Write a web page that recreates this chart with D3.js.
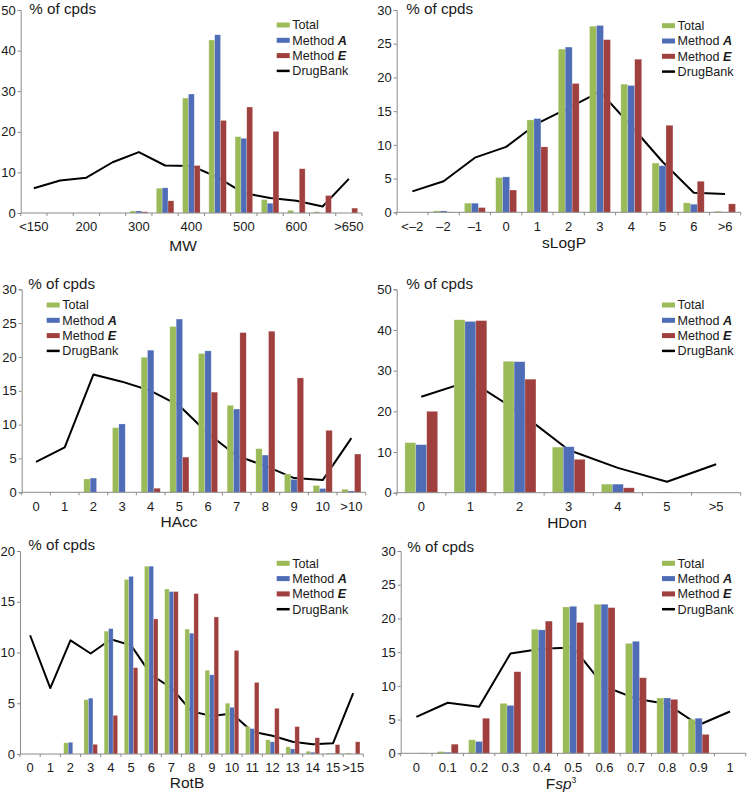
<!DOCTYPE html>
<html>
<head>
<meta charset="utf-8">
<script src="https://cdn.jsdelivr.net/npm/d3@7"></script>
<style>
  body { margin: 0; background: #fff; }
  text { font-family: "Liberation Sans", Arial, sans-serif; fill: #1a1a1a; }
</style>
</head>
<body>
<script>
// ---- data (% of compounds) ----
const mwCats = ["<150", "150", "200", "250", "300", "350", "400", "450", "500", "550", "600", "650", ">650"];
const mwTotal = [0, 0, 0, 0, 0.5, 6.1, 28.3, 42.6, 18.8, 3.3, 0.65, 0.3, 0];
const mwA     = [0, 0, 0, 0, 0.5, 6.2, 29.3, 43.9, 18.4, 2.4, 0, 0, 0];
const mwE     = [0, 0, 0, 0, 0.3, 3.0, 11.7, 22.8, 26.1, 20.1, 10.9, 4.3, 1.2];
const mwDrug  = [6.1, 8.0, 8.7, 12.5, 15.0, 11.7, 11.6, 8.8, 4.9, 3.7, 3.0, 1.6, 8.4];

const slCats = ["<\u20132", "\u20132", "\u20131", "0", "1", "2", "3", "4", "5", "6", ">6"];
const slTotal = [0, 0.2, 1.35, 5.15, 13.7, 24.2, 27.6, 19.0, 7.3, 1.4, 0.15];
const slA     = [0, 0.2, 1.35, 5.25, 13.9, 24.5, 27.7, 18.8, 6.9, 1.2, 0.05];
const slE     = [0, 0.05, 0.7, 3.3, 9.7, 19.1, 25.6, 22.7, 12.9, 4.6, 1.25];
const slDrug  = [3.1, 4.6, 8.1, 9.7, 13.2, 15.5, 17.9, 12.8, 7.5, 2.9, 2.7];

const haCats = ["0", "1", "2", "3", "4", "5", "6", "7", "8", "9", "10", ">10"];
const haTotal = [0, 0, 1.97, 9.55, 19.95, 24.5, 20.5, 12.85, 6.45, 2.7, 1.0, 0.45];
const haA     = [0, 0, 2.1, 10.1, 21.0, 25.6, 20.9, 12.3, 5.5, 1.9, 0.55, 0.2];
const haE     = [0, 0, 0, 0, 0.6, 5.2, 14.8, 23.6, 23.8, 16.9, 9.15, 5.65];
const haDrug  = [4.5, 6.65, 17.4, 16.35, 15.0, 12.8, 8.7, 5.4, 3.9, 2.1, 1.8, 8.0];

const hdCats = ["0", "1", "2", "3", "4", "5", ">5"];
const hdTotal = [12.3, 42.5, 32.3, 11.2, 2.1, 0.15, 0];
const hdA     = [11.8, 42.1, 32.2, 11.3, 2.1, 0.15, 0];
const hdE     = [20.0, 42.3, 27.9, 8.2, 1.2, 0.05, 0];
const hdDrug  = [23.6, 27.5, 19.8, 10.5, 6.1, 2.7, 7.0];

const rbCats = ["0", "1", "2", "3", "4", "5", "6", "7", "8", "9", "10", "11", "12", "13", "14", "15", ">15"];
const rbTotal = [0, 0, 1.1, 5.35, 12.1, 17.2, 18.5, 16.25, 12.3, 8.25, 5.0, 2.7, 1.4, 0.7, 0.27, 0.1, 0.1];
const rbA     = [0, 0, 1.15, 5.5, 12.35, 17.5, 18.5, 16.0, 11.9, 7.8, 4.6, 2.5, 1.2, 0.5, 0.17, 0.07, 0];
const rbE     = [0, 0, 0, 0.95, 3.8, 8.5, 13.3, 16.0, 15.8, 13.5, 10.2, 7.05, 4.5, 2.7, 1.6, 0.92, 1.2];
const rbDrug  = [11.7, 6.5, 11.2, 9.9, 11.3, 10.7, 7.8, 6.5, 4.2, 3.75, 4.0, 2.2, 1.8, 1.2, 0.95, 1.05, 6.0];

const fsCats = ["0", "0.1", "0.2", "0.3", "0.4", "0.5", "0.6", "0.7", "0.8", "0.9", "1"];
const fsTotal = [0, 0.25, 2.0, 7.4, 18.4, 21.7, 22.1, 16.3, 8.2, 5.05, 0];
const fsA     = [0, 0.15, 1.75, 7.1, 18.3, 21.8, 22.1, 16.6, 8.2, 5.2, 0];
const fsE     = [0.05, 1.35, 5.2, 12.1, 19.6, 19.4, 21.6, 11.2, 8.0, 2.8, 0];
const fsDrug  = [5.4, 7.5, 6.9, 14.8, 15.5, 15.7, 9.9, 8.1, 7.3, 4.2, 6.2];

const seriesColors = ["#9bbb59", "#4f6db6", "#a0403e"];

// panel geometry (pixels) + which data goes where
const panels = [
  { cats: mwCats, bars: [mwTotal, mwA, mwE], drug: mwDrug, yMax: 50, step: 10, every: 2, title: "MW",
    l: 20.7, r: 362, t: 10, b: 213, headX: 29.3, headY: 13.5, legX: 276.7, legY: 25, axX: 183, axY: 251 },
  { cats: slCats, bars: [slTotal, slA, slE], drug: slDrug, yMax: 30, step: 5, every: 1, title: "sLogP",
    l: 396.7, r: 740.7, t: 10, b: 212.3, headX: 406.3, headY: 13.5, legX: 662, legY: 25.7, axX: 564, axY: 248 },
  { cats: haCats, bars: [haTotal, haA, haE], drug: haDrug, yMax: 30, step: 5, every: 1, title: "HAcc",
    l: 21.7, r: 365.7, t: 289.3, b: 492.3, headX: 28.3, headY: 289, legX: 46.7, legY: 305, axX: 179, axY: 527 },
  { cats: hdCats, bars: [hdTotal, hdA, hdE], drug: hdDrug, yMax: 50, step: 10, every: 1, title: "HDon",
    l: 396.7, r: 740.7, t: 289.3, b: 492.7, headX: 406.3, headY: 288.5, legX: 662, legY: 305, axX: 567, axY: 527.5 },
  { cats: rbCats, bars: [rbTotal, rbA, rbE], drug: rbDrug, yMax: 20, step: 5, every: 1, title: "RotB",
    l: 20, r: 363.3, t: 551, b: 754, headX: 28.3, headY: 550, legX: 276.7, legY: 563.3, axX: 187, axY: 788 },
  { cats: fsCats, bars: [fsTotal, fsA, fsE], drug: fsDrug, yMax: 30, step: 5, every: 1, title: "Fsp3",
    l: 400.7, r: 745.7, t: 551, b: 753.3, headX: 407.3, headY: 551.5, legX: 662, legY: 563.3, axX: 561, axY: 789 }
];

const svg = d3.select("body")
    .append("svg")
    .attr("width", 747)
    .attr("height", 792);

function drawPanel(p) {
    const g = svg.append("g");

    const x = d3.scaleBand()
        .domain(p.cats)
        .range([p.l, p.r])
        .padding(0);

    const y = d3.scaleLinear()
        .domain([0, p.yMax])
        .range([p.b, p.t]);

    // 3 bars per group, gap = 1.5 bar widths
    const barW = x.bandwidth() / 4.5;
    const groupOff = (x.bandwidth() - 3 * barW) / 2;

    // DrugBank line sits behind the bars
    const line = d3.line()
        .x((d, i) => x(p.cats[i]) + x.bandwidth() / 2)
        .y(d => y(d));

    g.append("path")
        .datum(p.drug)
        .attr("d", line)
        .attr("fill", "none")
        .attr("stroke", "#000")
        .attr("stroke-width", 2)
        .attr("stroke-linejoin", "round");

    p.bars.forEach((vals, s) => {
        g.append("g")
            .selectAll("rect")
            .data(vals)
            .enter()
            .append("rect")
            .attr("x", (d, i) => x(p.cats[i]) + groupOff + s * barW)
            .attr("y", d => y(d))
            .attr("width", barW)
            .attr("height", d => y(0) - y(d))
            .attr("fill", seriesColors[s])
            .attr("stroke", "rgba(255,255,255,0.35)")
            .attr("stroke-width", 0.6);
    });

    // y axis
    const yAxis = d3.axisLeft(y)
        .tickValues(d3.range(0, p.yMax + 0.01, p.step))
        .tickSize(3)
        .tickPadding(2)
        .tickFormat(d3.format("d"));

    const ya = g.append("g")
        .attr("transform", `translate(${p.l},0)`)
        .call(yAxis);
    ya.select(".domain").attr("stroke", "#8a8a8a");
    ya.selectAll(".tick line").attr("stroke", "#8a8a8a");
    ya.selectAll(".tick text")
        .attr("font-size", "13px")
        .attr("font-family", "Liberation Sans, Arial, sans-serif")
        .attr("fill", "#1a1a1a");

    // x axis: ticks at category boundaries, labels in band centres
    g.append("line")
        .attr("x1", p.l).attr("x2", p.r)
        .attr("y1", p.b).attr("y2", p.b)
        .attr("stroke", "#8a8a8a");

    g.append("g")
        .selectAll("line")
        .data(p.cats.concat(["__end"]))
        .enter()
        .append("line")
        .attr("x1", (d, i) => i < p.cats.length ? x(d) : p.r)
        .attr("x2", (d, i) => i < p.cats.length ? x(d) : p.r)
        .attr("y1", p.b)
        .attr("y2", p.b + 3)
        .attr("stroke", "#8a8a8a");

    g.append("g")
        .selectAll("text")
        .data(p.cats.filter((d, i) => i % p.every === 0))
        .enter()
        .append("text")
        .attr("x", d => x(d) + x.bandwidth() / 2)
        .attr("y", p.b + 18.3)
        .attr("text-anchor", "middle")
        .attr("font-size", "13px")
        .text(d => d);

    // "% of cpds"
    g.append("text")
        .attr("x", p.headX)
        .attr("y", p.headY)
        .attr("font-size", "15.2px")
        .text("% of cpds");

    // axis title
    const at = g.append("text")
        .attr("x", p.axX)
        .attr("y", p.axY)
        .attr("text-anchor", "middle")
        .attr("font-size", "15.5px");
    if (p.title === "Fsp3") {
        at.append("tspan").text("F");
        at.append("tspan").attr("font-style", "italic").text("sp");
        at.append("tspan").attr("font-size", "8.5px").attr("dy", "-6").text("3");
    } else {
        at.text(p.title);
    }

    // legend
    const leg = g.append("g");
    const rowH = 15.3;
    const names = ["Total", "Method ", "Method ", "DrugBank"];
    const marks = [null, "A", "E", null];
    names.forEach((n, i) => {
        const cy = p.legY + i * rowH;
        if (i < 3) {
            leg.append("rect")
                .attr("x", p.legX).attr("y", cy - 2.5)
                .attr("width", 13).attr("height", 5)
                .attr("fill", seriesColors[i]);
        } else {
            leg.append("line")
                .attr("x1", p.legX).attr("x2", p.legX + 13)
                .attr("y1", cy).attr("y2", cy)
                .attr("stroke", "#000").attr("stroke-width", 2.5);
        }
        const t = leg.append("text")
            .attr("x", p.legX + 15.6)
            .attr("y", cy + 4.4)
            .attr("font-size", "12.6px");
        t.append("tspan").text(n);
        if (marks[i]) {
            t.append("tspan")
                .attr("font-weight", "bold")
                .attr("font-style", "italic")
                .text(marks[i]);
        }
    });
}

panels.forEach(drawPanel);
</script>
</body>
</html>
